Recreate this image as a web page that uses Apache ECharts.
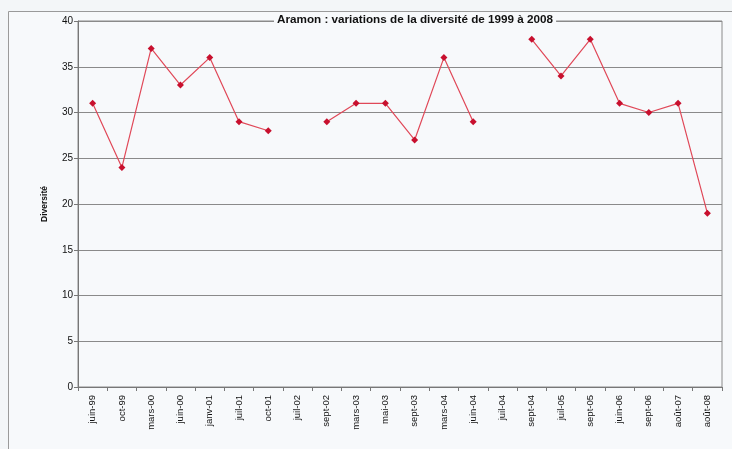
<!DOCTYPE html>
<html><head><meta charset="utf-8">
<script src="https://cdn.jsdelivr.net/npm/echarts@6/dist/echarts.min.js"></script>
<style>html,body{margin:0;padding:0;background:#f3f6f8;}#c{width:732px;height:449px;}</style>
</head><body><div id="c"></div>
<script>
var categories = ['juin-99','oct-99','mars-00','juin-00','janv-01','juil-01','oct-01','juil-02','sept-02','mars-03','mai-03','sept-03','mars-04','juin-04','juil-04','sept-04','juil-05','sept-05','juin-06','sept-06','août-07','août-08'];
var diversite = [31,24,37,33,36,29,28,null,29,31,31,27,36,29,null,38,34,38,31,30,31,19];
var yTicks = [0,5,10,15,20,25,30,35,40];
var titleText = 'Aramon : variations de la diversité de 1999 à 2008';
var yName = 'Diversité';

var chart = echarts.init(document.getElementById('c'));
chart.setOption({
  backgroundColor: '#f3f6f8',
  animation: false,
  graphic: [{type:'rect', shape:{x:8.5,y:11.5,width:740,height:460}, style:{fill:'#f7f9fb', stroke:'#9a9a9a', lineWidth:1}, z:-10}],
  title: {text: titleText, left: 274, top: 13, padding:[1,3], backgroundColor:'#f7f9fb',
    textStyle:{fontFamily:'Liberation Sans, Arial', fontSize:11.7, fontWeight:'bold', color:'#111'}},
  grid: {left:78, right:10, top:21, bottom:62, show:true, borderColor:'#8a8a8a', borderWidth:1, backgroundColor:'transparent'},
  xAxis: {type:'category', data: categories, boundaryGap:true,
    axisLine:{lineStyle:{color:'#777'}}, axisTick:{show:true, length:4, lineStyle:{color:'#777'}},
    axisLabel:{rotate:90, interval:0, fontFamily:'Liberation Sans, Arial', fontSize:9.5, color:'#111', margin:8}},
  yAxis: {type:'value', min:0, max:40, interval:5, name: yName, nameLocation:'middle', nameGap:29,
    nameTextStyle:{fontFamily:'Liberation Sans, Arial', fontSize:8.5, fontWeight:'bold', color:'#111'},
    axisLine:{show:true, lineStyle:{color:'#777'}}, axisTick:{show:true, length:4, lineStyle:{color:'#777'}},
    axisLabel:{fontFamily:'Liberation Sans, Arial', fontSize:10, color:'#111', margin:5,
      formatter:function(v){return yTicks.indexOf(v)>=0? String(v):'';}},
    splitLine:{lineStyle:{color:'#8a8a8a', width:1}}},
  series: [{type:'line', data: diversite, connectNulls:false, symbol:'diamond', symbolSize:7,
    lineStyle:{color:'#e04858', width:1.2}, itemStyle:{color:'#c8102e'}}]
});
</script></body></html>
